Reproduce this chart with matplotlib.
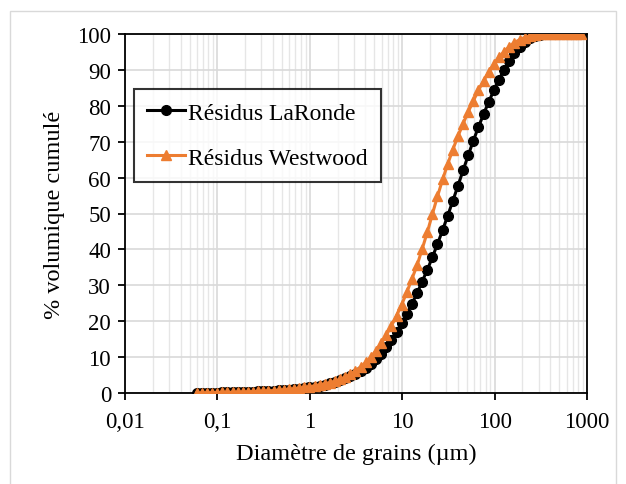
import matplotlib
matplotlib.use("Agg")
import matplotlib.pyplot as plt
from matplotlib.ticker import FixedLocator, LogLocator, NullFormatter
from matplotlib.patches import Rectangle

# Particle size classes (µm)
diametre = [0.0597, 0.0679, 0.0771, 0.0876, 0.0995, 0.113, 0.128, 0.146, 0.166, 0.188,
            0.214, 0.243, 0.276, 0.314, 0.357, 0.405, 0.46, 0.523, 0.594, 0.675,
            0.767, 0.872, 0.991, 1.13, 1.28, 1.45, 1.65, 1.88, 2.13, 2.42,
            2.75, 3.12, 3.55, 4.03, 4.58, 5.21, 5.92, 6.72, 7.64, 8.68,
            9.86, 11.2, 12.7, 14.5, 16.4, 18.7, 21.2, 24.1, 27.4, 31.1,
            35.3, 40.1, 45.6, 51.8, 58.9, 66.9, 76.0, 86.4, 98.1, 111,
            127, 144, 163, 186, 211, 240, 272, 310, 352, 400,
            454, 516, 586, 666, 756, 859]

# Cumulative volume passing (%)
laronde = [0.0, 0.02, 0.05, 0.08, 0.11, 0.14, 0.17, 0.2, 0.24, 0.28,
           0.32, 0.37, 0.42, 0.48, 0.55, 0.63, 0.72, 0.82, 0.94, 1.07,
           1.22, 1.39, 1.58, 1.8, 2.05, 2.33, 2.65, 3.1, 3.55, 4.05,
           4.65, 5.35, 6.15, 7.1, 8.2, 9.5, 11.0, 12.8, 14.8, 17.0,
           19.4, 22.0, 24.8, 27.8, 31.0, 34.3, 37.8, 41.5, 45.4, 49.4,
           53.5, 57.7, 62.0, 66.2, 70.3, 74.1, 77.7, 81.1, 84.3, 87.3,
           90.0, 92.5, 94.6, 96.4, 97.8, 98.9, 99.5, 99.85, 100, 100,
           100, 100, 100, 100, 100, 100]

westwood = [0.0, 0.02, 0.05, 0.08, 0.11, 0.14, 0.17, 0.21, 0.25, 0.29,
            0.34, 0.39, 0.45, 0.52, 0.6, 0.69, 0.79, 0.91, 1.04, 1.19,
            1.36, 1.55, 1.76, 2.0, 2.27, 2.57, 2.9, 3.3, 3.8, 4.4,
            5.2, 6.1, 7.2, 8.5, 10.0, 11.8, 13.8, 16.1, 18.7, 21.5,
            24.6, 28.0, 31.7, 35.6, 40.0, 44.8, 49.8, 54.8, 59.5, 63.8,
            67.8, 71.5, 75.0, 78.3, 81.4, 84.3, 87.0, 89.4, 91.6, 93.5,
            95.1, 96.5, 97.6, 98.4, 99.0, 99.5, 99.8, 99.95, 100, 100,
            100, 100, 100, 100, 100, 100]

x_ticks = [0.01, 0.1, 1, 10, 100, 1000]
x_tick_labels = ["0,01", "0,1", "1", "10", "100", "1000"]
y_ticks = [0, 10, 20, 30, 40, 50, 60, 70, 80, 90, 100]

plt.rcParams["font.family"] = ["Liberation Serif", "DejaVu Serif"]

fig = plt.figure(figsize=(6.26, 4.85), dpi=100)
fig.patch.set_facecolor("white")

# light chart-area border
fig.patches.append(Rectangle((10 / 626, -0.01), 606 / 626, 1 - 12 / 485 + 0.01,
                             transform=fig.transFigure, fill=False,
                             edgecolor="#d9d9d9", linewidth=1.0))

ax = fig.add_axes([125 / 626, 1 - 394 / 485, 462 / 626, 359 / 485])

ax.plot(diametre, laronde, color="black", lw=2.2, marker="o", markersize=7,
        markerfacecolor="black", markeredgecolor="black", label="Résidus LaRonde",
        zorder=3)
ax.plot(diametre, westwood, color="#ED7D31", lw=2.2, marker="^", markersize=7,
        markerfacecolor="#ED7D31", markeredgecolor="#ED7D31", label="Résidus Westwood",
        zorder=4)

ax.set_xscale("log")
ax.set_xlim(0.01, 1000)
ax.set_ylim(0, 100)

ax.xaxis.set_major_locator(FixedLocator(x_ticks))
ax.set_xticklabels(x_tick_labels)
ax.xaxis.set_minor_locator(LogLocator(base=10, subs=range(2, 10), numticks=20))
ax.xaxis.set_minor_formatter(NullFormatter())
ax.set_yticks(y_ticks)

ax.grid(True, which="major", axis="both", color="#d9d9d9", lw=1.2, zorder=0)
ax.grid(True, which="minor", axis="x", color="#e6e6e6", lw=1.0, zorder=0)
ax.set_axisbelow(True)

for sp in ax.spines.values():
    sp.set_color("black")
    sp.set_linewidth(1.3)

ax.tick_params(axis="both", which="major", direction="out", length=5, width=1.3,
               labelsize=16.5, colors="black")
ax.tick_params(axis="y", which="major", pad=5)
ax.tick_params(axis="x", which="major", pad=8)
ax.tick_params(axis="x", which="minor", length=0)

ax.set_xlabel("Diamètre de grains (µm)", fontsize=17.5, labelpad=8)
ax.set_ylabel("% volumique cumulé", fontsize=17.5, labelpad=9)

leg = ax.legend(loc="upper left", bbox_to_anchor=(9 / 462, (394 - 90) / 359),
                borderaxespad=0, fontsize=17, frameon=True, fancybox=False,
                edgecolor="black", handlelength=1.6, handletextpad=0.15,
                borderpad=0.55, labelspacing=1.0)
leg.get_frame().set_linewidth(1.5)

fig.savefig("out.png", dpi=100, facecolor="white")
